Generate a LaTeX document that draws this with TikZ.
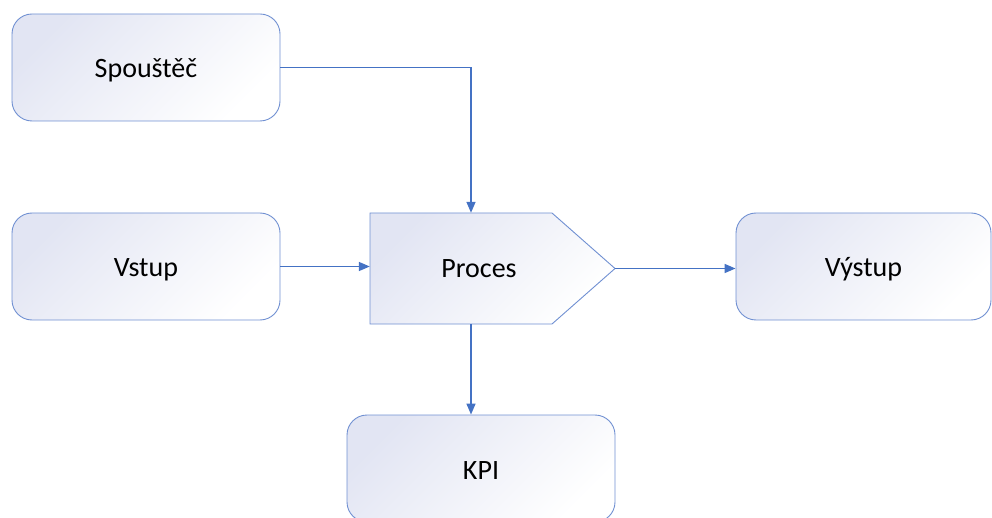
\documentclass[tikz,border=0pt]{standalone}
\usepackage{fontspec}
\setmainfont{Carlito}
\usetikzlibrary{arrows.meta,calc}

\definecolor{edgeblue}{HTML}{7090D2}
\definecolor{arrowblue}{HTML}{4472C4}
\definecolor{lavender}{HTML}{E2E5F3}

\tikzset{
  boxshade/.style={top color=lavender, bottom color=white, shading angle=45},
  roundbox/.style={boxshade, draw=edgeblue, line width=0.9pt, rounded corners=20pt,
    minimum width=268pt, minimum height=107pt, inner sep=0pt,
    text height=24pt, text depth=3pt,
    font=\fontsize{28}{32}\selectfont},
  plain/.style={font=\fontsize{28}{32}\selectfont, inner sep=0pt},
  anchorbox/.style={minimum width=202pt, minimum height=111pt, inner sep=0pt},
  flow/.style={draw=arrowblue, line width=1.5pt, -{Triangle[length=11pt,width=9pt]}},
}

\begin{document}
\begin{tikzpicture}[x=1pt,y=-1pt]
  \useasboundingbox (0,0) rectangle (992,518);
  \clip (0,0) rectangle (992,518);

  % boxes
  \node[roundbox] (spoust) at (146,67.5) {Spouštěč};
  \node[roundbox] (vstup)  at (146,266.5) {Vstup};
  \node[roundbox, minimum width=255pt] (vystup) at (863.5,266.5) {Výstup};
  \node[roundbox] (kpi)    at (481,468.5) {KPI};

  % process pentagon
  \path[boxshade, draw=edgeblue, line width=0.9pt]
    (370,213) -- (552,213) -- (615,268.5) -- (552,324) -- (370,324) -- cycle;
  \node[anchorbox] (proc) at (471,268.5) {};
  \coordinate (tip) at (615,268.5);
  \node[plain] (proctext) at (479,268.5) {Proces};

  % connectors
  \draw[flow] (spoust.east) -| (proc.north);
  \draw[flow] (vstup.east) -- (vstup.east -| proc.west);
  \draw[flow] (tip) -- (tip -| vystup.west);
  \draw[flow] (proc.south) -- (proc.south |- kpi.north);
\end{tikzpicture}
\end{document}
